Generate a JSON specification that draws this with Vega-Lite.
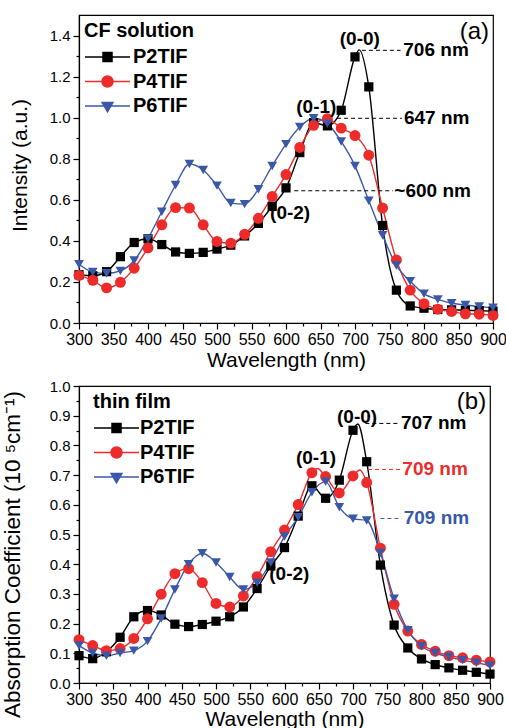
{
"$schema": "https://vega.github.io/schema/vega-lite/v6.json",
"padding": {"left": 0, "top": 14, "right": 0, "bottom": 0},
"spacing": 7,
"datasets": {
"a": [
{"s":"P2TIF","x":300,"y":0.235,"m":1},{"s":"P2TIF","x":320,"y":0.23,"m":1},{"s":"P2TIF","x":340,"y":0.25,"m":1},{"s":"P2TIF","x":360,"y":0.323,"m":1},{"s":"P2TIF","x":380,"y":0.392,"m":1},{"s":"P2TIF","x":400,"y":0.41,"m":1},{"s":"P2TIF","x":420,"y":0.382,"m":1},{"s":"P2TIF","x":440,"y":0.346,"m":1},{"s":"P2TIF","x":460,"y":0.339,"m":1},{"s":"P2TIF","x":480,"y":0.344,"m":1},{"s":"P2TIF","x":500,"y":0.36,"m":1},{"s":"P2TIF","x":520,"y":0.379,"m":1},{"s":"P2TIF","x":540,"y":0.424,"m":1},{"s":"P2TIF","x":560,"y":0.485,"m":1},{"s":"P2TIF","x":580,"y":0.568,"m":1},{"s":"P2TIF","x":600,"y":0.658,"m":1},{"s":"P2TIF","x":620,"y":0.83,"m":1},{"s":"P2TIF","x":640,"y":0.976,"m":1},{"s":"P2TIF","x":660,"y":0.96,"m":1},{"s":"P2TIF","x":680,"y":1.036,"m":1},{"s":"P2TIF","x":700,"y":1.296,"m":1},{"s":"P2TIF","x":706,"y":1.33,"m":0},{"s":"P2TIF","x":720,"y":1.15,"m":1},{"s":"P2TIF","x":740,"y":0.475,"m":1},{"s":"P2TIF","x":760,"y":0.16,"m":1},{"s":"P2TIF","x":780,"y":0.083,"m":1},{"s":"P2TIF","x":800,"y":0.072,"m":1},{"s":"P2TIF","x":820,"y":0.066,"m":1},{"s":"P2TIF","x":840,"y":0.064,"m":1},{"s":"P2TIF","x":860,"y":0.062,"m":1},{"s":"P2TIF","x":880,"y":0.06,"m":1},{"s":"P2TIF","x":900,"y":0.058,"m":1},
{"s":"P4TIF","x":300,"y":0.232,"m":1},{"s":"P4TIF","x":320,"y":0.208,"m":1},{"s":"P4TIF","x":340,"y":0.171,"m":1},{"s":"P4TIF","x":360,"y":0.198,"m":1},{"s":"P4TIF","x":380,"y":0.267,"m":1},{"s":"P4TIF","x":400,"y":0.366,"m":1},{"s":"P4TIF","x":420,"y":0.478,"m":1},{"s":"P4TIF","x":440,"y":0.562,"m":1},{"s":"P4TIF","x":460,"y":0.56,"m":1},{"s":"P4TIF","x":480,"y":0.478,"m":1},{"s":"P4TIF","x":500,"y":0.397,"m":1},{"s":"P4TIF","x":520,"y":0.389,"m":1},{"s":"P4TIF","x":540,"y":0.432,"m":1},{"s":"P4TIF","x":560,"y":0.51,"m":1},{"s":"P4TIF","x":580,"y":0.616,"m":1},{"s":"P4TIF","x":600,"y":0.723,"m":1},{"s":"P4TIF","x":620,"y":0.855,"m":1},{"s":"P4TIF","x":640,"y":0.963,"m":1},{"s":"P4TIF","x":660,"y":0.995,"m":1},{"s":"P4TIF","x":680,"y":0.949,"m":1},{"s":"P4TIF","x":700,"y":0.913,"m":1},{"s":"P4TIF","x":720,"y":0.817,"m":1},{"s":"P4TIF","x":740,"y":0.56,"m":1},{"s":"P4TIF","x":760,"y":0.307,"m":1},{"s":"P4TIF","x":780,"y":0.16,"m":1},{"s":"P4TIF","x":800,"y":0.094,"m":1},{"s":"P4TIF","x":820,"y":0.067,"m":1},{"s":"P4TIF","x":840,"y":0.056,"m":1},{"s":"P4TIF","x":860,"y":0.045,"m":1},{"s":"P4TIF","x":880,"y":0.043,"m":1},{"s":"P4TIF","x":900,"y":0.037,"m":1},
{"s":"P6TIF","x":300,"y":0.286,"m":1},{"s":"P6TIF","x":320,"y":0.248,"m":1},{"s":"P6TIF","x":340,"y":0.242,"m":1},{"s":"P6TIF","x":360,"y":0.254,"m":1},{"s":"P6TIF","x":380,"y":0.304,"m":1},{"s":"P6TIF","x":400,"y":0.411,"m":1},{"s":"P6TIF","x":420,"y":0.542,"m":1},{"s":"P6TIF","x":440,"y":0.672,"m":1},{"s":"P6TIF","x":460,"y":0.774,"m":1},{"s":"P6TIF","x":480,"y":0.745,"m":1},{"s":"P6TIF","x":500,"y":0.669,"m":1},{"s":"P6TIF","x":520,"y":0.584,"m":1},{"s":"P6TIF","x":540,"y":0.579,"m":1},{"s":"P6TIF","x":560,"y":0.651,"m":1},{"s":"P6TIF","x":580,"y":0.765,"m":1},{"s":"P6TIF","x":600,"y":0.871,"m":1},{"s":"P6TIF","x":620,"y":0.955,"m":1},{"s":"P6TIF","x":640,"y":0.997,"m":1},{"s":"P6TIF","x":660,"y":0.971,"m":1},{"s":"P6TIF","x":680,"y":0.884,"m":1},{"s":"P6TIF","x":700,"y":0.765,"m":1},{"s":"P6TIF","x":720,"y":0.595,"m":1},{"s":"P6TIF","x":740,"y":0.427,"m":1},{"s":"P6TIF","x":760,"y":0.28,"m":1},{"s":"P6TIF","x":780,"y":0.203,"m":1},{"s":"P6TIF","x":800,"y":0.142,"m":1},{"s":"P6TIF","x":820,"y":0.115,"m":1},{"s":"P6TIF","x":840,"y":0.096,"m":1},{"s":"P6TIF","x":860,"y":0.088,"m":1},{"s":"P6TIF","x":880,"y":0.08,"m":1},{"s":"P6TIF","x":900,"y":0.075,"m":1}
],
"b": [
{"s":"P2TIF","x":300,"y":0.092,"m":1},{"s":"P2TIF","x":320,"y":0.082,"m":1},{"s":"P2TIF","x":340,"y":0.105,"m":1},{"s":"P2TIF","x":360,"y":0.154,"m":1},{"s":"P2TIF","x":380,"y":0.223,"m":1},{"s":"P2TIF","x":400,"y":0.244,"m":1},{"s":"P2TIF","x":420,"y":0.229,"m":1},{"s":"P2TIF","x":440,"y":0.198,"m":1},{"s":"P2TIF","x":460,"y":0.19,"m":1},{"s":"P2TIF","x":480,"y":0.197,"m":1},{"s":"P2TIF","x":500,"y":0.208,"m":1},{"s":"P2TIF","x":520,"y":0.223,"m":1},{"s":"P2TIF","x":540,"y":0.256,"m":1},{"s":"P2TIF","x":560,"y":0.318,"m":1},{"s":"P2TIF","x":580,"y":0.394,"m":1},{"s":"P2TIF","x":600,"y":0.456,"m":1},{"s":"P2TIF","x":620,"y":0.562,"m":1},{"s":"P2TIF","x":640,"y":0.664,"m":1},{"s":"P2TIF","x":660,"y":0.622,"m":1},{"s":"P2TIF","x":680,"y":0.683,"m":1},{"s":"P2TIF","x":700,"y":0.851,"m":1},{"s":"P2TIF","x":707,"y":0.872,"m":0},{"s":"P2TIF","x":720,"y":0.745,"m":1},{"s":"P2TIF","x":740,"y":0.397,"m":1},{"s":"P2TIF","x":760,"y":0.195,"m":1},{"s":"P2TIF","x":780,"y":0.118,"m":1},{"s":"P2TIF","x":800,"y":0.081,"m":1},{"s":"P2TIF","x":820,"y":0.062,"m":1},{"s":"P2TIF","x":840,"y":0.051,"m":1},{"s":"P2TIF","x":860,"y":0.043,"m":1},{"s":"P2TIF","x":880,"y":0.036,"m":1},{"s":"P2TIF","x":900,"y":0.03,"m":1},
{"s":"P4TIF","x":300,"y":0.146,"m":1},{"s":"P4TIF","x":320,"y":0.126,"m":1},{"s":"P4TIF","x":340,"y":0.109,"m":1},{"s":"P4TIF","x":360,"y":0.116,"m":1},{"s":"P4TIF","x":380,"y":0.15,"m":1},{"s":"P4TIF","x":400,"y":0.216,"m":1},{"s":"P4TIF","x":420,"y":0.299,"m":1},{"s":"P4TIF","x":440,"y":0.368,"m":1},{"s":"P4TIF","x":460,"y":0.385,"m":1},{"s":"P4TIF","x":480,"y":0.338,"m":1},{"s":"P4TIF","x":500,"y":0.268,"m":1},{"s":"P4TIF","x":520,"y":0.256,"m":1},{"s":"P4TIF","x":540,"y":0.293,"m":1},{"s":"P4TIF","x":560,"y":0.358,"m":1},{"s":"P4TIF","x":580,"y":0.442,"m":1},{"s":"P4TIF","x":600,"y":0.515,"m":1},{"s":"P4TIF","x":620,"y":0.601,"m":1},{"s":"P4TIF","x":640,"y":0.708,"m":1},{"s":"P4TIF","x":648,"y":0.722,"m":0},{"s":"P4TIF","x":660,"y":0.695,"m":1},{"s":"P4TIF","x":680,"y":0.64,"m":1},{"s":"P4TIF","x":700,"y":0.697,"m":1},{"s":"P4TIF","x":710,"y":0.717,"m":0},{"s":"P4TIF","x":720,"y":0.675,"m":1},{"s":"P4TIF","x":740,"y":0.454,"m":1},{"s":"P4TIF","x":760,"y":0.265,"m":1},{"s":"P4TIF","x":780,"y":0.175,"m":1},{"s":"P4TIF","x":800,"y":0.13,"m":1},{"s":"P4TIF","x":820,"y":0.107,"m":1},{"s":"P4TIF","x":840,"y":0.092,"m":1},{"s":"P4TIF","x":860,"y":0.085,"m":1},{"s":"P4TIF","x":880,"y":0.077,"m":1},{"s":"P4TIF","x":900,"y":0.071,"m":1},
{"s":"P6TIF","x":300,"y":0.126,"m":1},{"s":"P6TIF","x":320,"y":0.101,"m":1},{"s":"P6TIF","x":340,"y":0.092,"m":1},{"s":"P6TIF","x":360,"y":0.101,"m":1},{"s":"P6TIF","x":380,"y":0.109,"m":1},{"s":"P6TIF","x":400,"y":0.141,"m":1},{"s":"P6TIF","x":420,"y":0.217,"m":1},{"s":"P6TIF","x":440,"y":0.315,"m":1},{"s":"P6TIF","x":460,"y":0.4,"m":1},{"s":"P6TIF","x":480,"y":0.437,"m":1},{"s":"P6TIF","x":500,"y":0.406,"m":1},{"s":"P6TIF","x":520,"y":0.357,"m":1},{"s":"P6TIF","x":540,"y":0.315,"m":1},{"s":"P6TIF","x":560,"y":0.338,"m":1},{"s":"P6TIF","x":580,"y":0.406,"m":1},{"s":"P6TIF","x":600,"y":0.493,"m":1},{"s":"P6TIF","x":620,"y":0.558,"m":1},{"s":"P6TIF","x":640,"y":0.642,"m":1},{"s":"P6TIF","x":660,"y":0.678,"m":1},{"s":"P6TIF","x":680,"y":0.592,"m":1},{"s":"P6TIF","x":700,"y":0.553,"m":1},{"s":"P6TIF","x":720,"y":0.547,"m":1},{"s":"P6TIF","x":740,"y":0.438,"m":1},{"s":"P6TIF","x":760,"y":0.284,"m":1},{"s":"P6TIF","x":780,"y":0.178,"m":1},{"s":"P6TIF","x":800,"y":0.124,"m":1},{"s":"P6TIF","x":820,"y":0.101,"m":1},{"s":"P6TIF","x":840,"y":0.088,"m":1},{"s":"P6TIF","x":860,"y":0.077,"m":1},{"s":"P6TIF","x":880,"y":0.068,"m":1},{"s":"P6TIF","x":900,"y":0.059,"m":1}
]
},
"resolve": {"scale": {"color": "independent", "fill": "independent", "stroke": "independent", "shape": "independent", "y": "independent"}},
"vconcat": [
{
"width": 414, "height": 308,
"data": {"name": "a"},
"resolve": {"axis": {"x": "independent", "y": "independent"}},
"layer": [
{"mark": {"type": "line", "interpolate": "monotone", "strokeWidth": 1.4},
 "encoding": {
  "x": {"field": "x", "type": "quantitative", "scale": {"domain": [300, 900], "nice": false},
        "axis": {"title": "Wavelength (nm)", "orient": "bottom", "values": [300,350,400,450,500,550,600,650,700,750,800,850,900],
                 "labelOverlap": false, "labelFlush": false, "tickSize": 6, "labelPadding": 2, "titlePadding": 2}},
  "y": {"field": "y", "type": "quantitative", "scale": {"domain": [0, 1.5], "nice": false},
        "axis": {"title": "Intensity (a.u.)", "orient": "left", "values": [0,0.2,0.4,0.6,0.8,1.0,1.2,1.4], "format": ".1f",
                 "tickSize": 6, "labelPadding": 3, "titlePadding": 19, "labelOverlap": false, "titleY": 150}},
  "color": {"field": "s", "type": "nominal", "scale": {"range": ["#000000","#ee2b2b","#3a58a8"]}, "legend": null},
  "detail": {"field": "s"}
 }},
{"transform": [{"filter": "datum.m == 1 && datum.s == 'P2TIF'"}],
 "mark": {"type": "square", "size": 85, "opacity": 1},
 "encoding": {
  "x": {"field": "x", "type": "quantitative", "axis": {"orient": "bottom", "values": [325,375,425,475,525,575,625,675,725,775,825,875], "labels": false, "domain": false, "title": null, "tickSize": 3}},
  "y": {"field": "y", "type": "quantitative", "axis": {"orient": "left", "values": [0.1,0.3,0.5,0.7,0.9,1.1,1.3], "labels": false, "domain": false, "title": null, "tickSize": 3}},
  "color": {"field": "s", "type": "nominal", "legend": null}}},
{"transform": [{"filter": "datum.m == 1 && datum.s == 'P4TIF'"}],
 "mark": {"type": "circle", "size": 120, "opacity": 1},
 "encoding": {"x": {"field": "x", "type": "quantitative", "axis": null}, "y": {"field": "y", "type": "quantitative", "axis": null}, "color": {"field": "s", "type": "nominal", "legend": null}}},
{"transform": [{"filter": "datum.m == 1 && datum.s == 'P6TIF'"}],
 "mark": {"type": "point", "shape": "triangle-down", "filled": true, "size": 95, "opacity": 1},
 "encoding": {"x": {"field": "x", "type": "quantitative", "axis": null}, "y": {"field": "y", "type": "quantitative", "axis": null}, "color": {"field": "s", "type": "nominal", "legend": null}}},
{"data": {"values": [{"s":"P2TIF","x":710,"x2":766,"y":1.328},{"s":"P2TIF","x":674,"x2":768,"y":0.997},{"s":"P2TIF","x":612,"x2":755,"y":0.644}]},
 "mark": {"type": "rule", "strokeDash": [4, 3], "strokeWidth": 1},
 "encoding": {"x": {"field": "x", "type": "quantitative", "axis": null}, "x2": {"field": "x2"}, "y": {"field": "y", "type": "quantitative", "axis": null}, "color": {"field": "s", "type": "nominal", "legend": null}}},
{"data": {"values": [{"s":"P2TIF","x":770,"y":1.328,"t":"706 nm"},{"s":"P2TIF","x":771,"y":0.997,"t":"647 nm"},{"s":"P2TIF","x":757,"y":0.644,"t":"~600 nm"}]},
 "mark": {"type": "text", "align": "left", "baseline": "middle", "fontSize": 19, "fontWeight": "bold", "font": "Liberation Sans"},
 "encoding": {"x": {"field": "x", "type": "quantitative", "axis": null}, "y": {"field": "y", "type": "quantitative", "axis": null}, "text": {"field": "t"}, "color": {"field": "s", "type": "nominal", "legend": null}}},
{"data": {"values": [{"s":"P2TIF","x":707,"y":1.382,"t":"(0-0)"},{"s":"P2TIF","x":644,"y":1.05,"t":"(0-1)"},{"s":"P2TIF","x":606,"y":0.537,"t":"(0-2)"}]},
 "mark": {"type": "text", "align": "center", "baseline": "middle", "fontSize": 19, "fontWeight": "bold", "font": "Liberation Sans"},
 "encoding": {"x": {"field": "x", "type": "quantitative", "axis": null}, "y": {"field": "y", "type": "quantitative", "axis": null}, "text": {"field": "t"}, "color": {"field": "s", "type": "nominal", "legend": null}}},
{"data": {"values": [{"x":873,"y":1.418,"t":"(a)"}]},
 "mark": {"type": "text", "align": "center", "baseline": "middle", "fontSize": 24, "font": "Liberation Sans", "color": "black"},
 "encoding": {"x": {"field": "x", "type": "quantitative", "axis": null}, "y": {"field": "y", "type": "quantitative", "axis": null}, "text": {"field": "t"}}},
{"transform": [{"filter": "datum.m == 1"}],
 "mark": {"type": "point", "filled": true, "size": 400, "strokeWidth": 1.5, "opacity": 0},
 "encoding": {
  "x": {"field": "x", "type": "quantitative", "axis": null}, "y": {"field": "y", "type": "quantitative", "axis": null},
  "shape": {"field": "s", "type": "nominal", "scale": {"domain": ["P2TIF","P4TIF","P6TIF"], "range": ["M-1,0H3.5M0.8,-0.45H1.7V0.45H0.8Z", "M-1,0H3.5M0.7,0A0.55,0.55,0,1,1,1.8,0A0.55,0.55,0,1,1,0.7,0Z", "M-1,0H3.5M0.71,-0.36H1.79L1.25,0.585Z"]},
            "legend": {"title": "CF solution", "orient": "none", "legendX": 5, "legendY": 6, "direction": "vertical", "labelOffset": 27}},
  "fill": {"field": "s", "type": "nominal", "scale": {"domain": ["P2TIF","P4TIF","P6TIF"], "range": ["#000000","#ee2b2b","#3a58a8"]},
           "legend": {"title": "CF solution", "orient": "none", "legendX": 5, "legendY": 6, "direction": "vertical", "labelOffset": 27}},
  "stroke": {"field": "s", "type": "nominal", "scale": {"domain": ["P2TIF","P4TIF","P6TIF"], "range": ["#000000","#ee2b2b","#3a58a8"]},
           "legend": {"title": "CF solution", "orient": "none", "legendX": 5, "legendY": 6, "direction": "vertical", "labelOffset": 27}}
 }}
]
},
{
"width": 411, "height": 297,
"data": {"name": "b"},
"resolve": {"axis": {"x": "independent", "y": "independent"}},
"layer": [
{"mark": {"type": "line", "interpolate": "monotone", "strokeWidth": 1.4},
 "encoding": {
  "x": {"field": "x", "type": "quantitative", "scale": {"domain": [300, 900], "nice": false},
        "axis": {"title": "Wavelength (nm)", "orient": "bottom", "values": [300,350,400,450,500,550,600,650,700,750,800,850,900],
                 "labelOverlap": false, "labelFlush": false, "tickSize": 6, "labelPadding": 2, "titlePadding": 1}},
  "y": {"field": "y", "type": "quantitative", "scale": {"domain": [0, 1.0], "nice": false},
        "axis": {"title": "Absorption Coefficient (10 ⁵cm⁻¹)", "orient": "left", "titleY": 168, "titleFontSize": 22.5, "values": [0,0.1,0.2,0.3,0.4,0.5,0.6,0.7,0.8,0.9,1.0], "format": ".1f",
                 "tickSize": 6, "labelPadding": 3, "titlePadding": 25, "labelOverlap": false}},
  "color": {"field": "s", "type": "nominal", "scale": {"range": ["#000000","#ee2b2b","#3a58a8"]}, "legend": null},
  "detail": {"field": "s"}
 }},
{"transform": [{"filter": "datum.m == 1 && datum.s == 'P2TIF'"}],
 "mark": {"type": "square", "size": 85, "opacity": 1},
 "encoding": {
  "x": {"field": "x", "type": "quantitative", "axis": {"orient": "bottom", "values": [325,375,425,475,525,575,625,675,725,775,825,875], "labels": false, "domain": false, "title": null, "tickSize": 3}},
  "y": {"field": "y", "type": "quantitative", "axis": {"orient": "left", "values": [0.05,0.15,0.25,0.35,0.45,0.55,0.65,0.75,0.85,0.95], "labels": false, "domain": false, "title": null, "tickSize": 3}},
  "color": {"field": "s", "type": "nominal", "legend": null}}},
{"transform": [{"filter": "datum.m == 1 && datum.s == 'P4TIF'"}],
 "mark": {"type": "circle", "size": 120, "opacity": 1},
 "encoding": {"x": {"field": "x", "type": "quantitative", "axis": null}, "y": {"field": "y", "type": "quantitative", "axis": null}, "color": {"field": "s", "type": "nominal", "legend": null}}},
{"transform": [{"filter": "datum.m == 1 && datum.s == 'P6TIF'"}],
 "mark": {"type": "point", "shape": "triangle-down", "filled": true, "size": 95, "opacity": 1},
 "encoding": {"x": {"field": "x", "type": "quantitative", "axis": null}, "y": {"field": "y", "type": "quantitative", "axis": null}, "color": {"field": "s", "type": "nominal", "legend": null}}},
{"data": {"values": [{"s":"P2TIF","x":718,"x2":767,"y":0.874},{"s":"P4TIF","x":722,"x2":770,"y":0.719},{"s":"P6TIF","x":740,"x2":771,"y":0.554}]},
 "mark": {"type": "rule", "strokeDash": [4, 3], "strokeWidth": 1},
 "encoding": {"x": {"field": "x", "type": "quantitative", "axis": null}, "x2": {"field": "x2"}, "y": {"field": "y", "type": "quantitative", "axis": null}, "color": {"field": "s", "type": "nominal", "legend": null}}},
{"data": {"values": [{"s":"P2TIF","x":770,"y":0.874,"t":"707 nm"},{"s":"P4TIF","x":772,"y":0.719,"t":"709 nm"},{"s":"P6TIF","x":774,"y":0.554,"t":"709 nm"}]},
 "mark": {"type": "text", "align": "left", "baseline": "middle", "fontSize": 19, "fontWeight": "bold", "font": "Liberation Sans"},
 "encoding": {"x": {"field": "x", "type": "quantitative", "axis": null}, "y": {"field": "y", "type": "quantitative", "axis": null}, "text": {"field": "t"}, "color": {"field": "s", "type": "nominal", "legend": null}}},
{"data": {"values": [{"s":"P2TIF","x":706,"y":0.896,"t":"(0-0)"},{"s":"P2TIF","x":646,"y":0.756,"t":"(0-1)"},{"s":"P2TIF","x":607,"y":0.366,"t":"(0-2)"}]},
 "mark": {"type": "text", "align": "center", "baseline": "middle", "fontSize": 19, "fontWeight": "bold", "font": "Liberation Sans"},
 "encoding": {"x": {"field": "x", "type": "quantitative", "axis": null}, "y": {"field": "y", "type": "quantitative", "axis": null}, "text": {"field": "t"}, "color": {"field": "s", "type": "nominal", "legend": null}}},
{"data": {"values": [{"x":873,"y":0.946,"t":"(b)"}]},
 "mark": {"type": "text", "align": "center", "baseline": "middle", "fontSize": 24, "font": "Liberation Sans", "color": "black"},
 "encoding": {"x": {"field": "x", "type": "quantitative", "axis": null}, "y": {"field": "y", "type": "quantitative", "axis": null}, "text": {"field": "t"}}},
{"transform": [{"filter": "datum.m == 1"}],
 "mark": {"type": "point", "filled": true, "size": 400, "strokeWidth": 1.5, "opacity": 0},
 "encoding": {
  "x": {"field": "x", "type": "quantitative", "axis": null}, "y": {"field": "y", "type": "quantitative", "axis": null},
  "shape": {"field": "s", "type": "nominal", "scale": {"domain": ["P2TIF","P4TIF","P6TIF"], "range": ["M-1,0H3.5M0.8,-0.45H1.7V0.45H0.8Z", "M-1,0H3.5M0.7,0A0.55,0.55,0,1,1,1.8,0A0.55,0.55,0,1,1,0.7,0Z", "M-1,0H3.5M0.71,-0.36H1.79L1.25,0.585Z"]},
            "legend": {"title": "thin film", "orient": "none", "legendX": 14, "legendY": 6, "direction": "vertical", "labelOffset": 25}},
  "fill": {"field": "s", "type": "nominal", "scale": {"domain": ["P2TIF","P4TIF","P6TIF"], "range": ["#000000","#ee2b2b","#3a58a8"]},
           "legend": {"title": "thin film", "orient": "none", "legendX": 14, "legendY": 6, "direction": "vertical", "labelOffset": 25}},
  "stroke": {"field": "s", "type": "nominal", "scale": {"domain": ["P2TIF","P4TIF","P6TIF"], "range": ["#000000","#ee2b2b","#3a58a8"]},
           "legend": {"title": "thin film", "orient": "none", "legendX": 14, "legendY": 6, "direction": "vertical", "labelOffset": 25}}
 }}
]
}
],
"config": {
 "font": "Liberation Sans",
 "view": {"stroke": "black", "strokeWidth": 1.2},
 "axis": {"grid": false, "domainColor": "black", "domainWidth": 1.2, "tickColor": "black", "tickWidth": 1.2,
          "labelColor": "black", "titleColor": "black", "labelFontSize": 15, "titleFontSize": 21, "titleFontWeight": "normal",
          "labelFont": "Liberation Sans", "titleFont": "Liberation Sans"},
 "axisX": {"labelFontSize": 16},
 "legend": {"titleFontSize": 20, "titleFontWeight": "bold", "titleColor": "black", "titleFont": "Liberation Sans", "titlePadding": 5,
            "labelFontSize": 20, "labelFontWeight": "bold", "labelColor": "black", "labelFont": "Liberation Sans",
            "symbolSize": 400, "symbolStrokeWidth": 1.5, "symbolOpacity": 1, "rowPadding": 3.5, "padding": 0, "titleLimit": 300}
}
}
